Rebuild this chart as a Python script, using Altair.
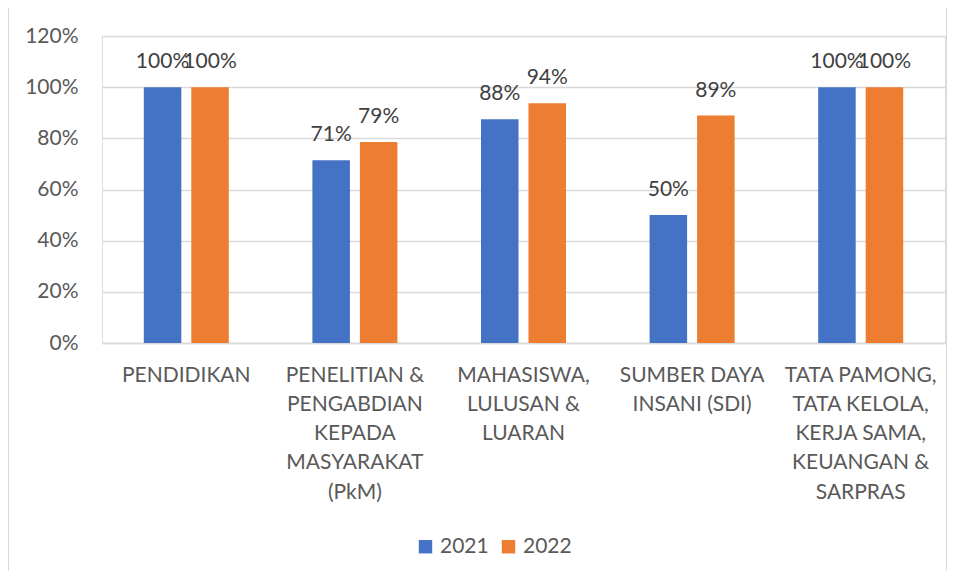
import altair as alt
import pandas as pd

categories = [
    "PENDIDIKAN",
    "PENELITIAN &|PENGABDIAN|KEPADA|MASYARAKAT|(PkM)",
    "MAHASISWA,|LULUSAN &|LUARAN",
    "SUMBER DAYA|INSANI (SDI)",
    "TATA PAMONG,|TATA KELOLA,|KERJA SAMA,|KEUANGAN &|SARPRAS",
]
years = ["2021", "2022"]
values_2021 = [1.0, 0.714, 0.875, 0.5, 1.0]
values_2022 = [1.0, 0.786, 0.9375, 0.889, 1.0]
colors = ["#4472C4", "#ED7D31"]

rows = []
for c, v1, v2 in zip(categories, values_2021, values_2022):
    rows.append({"cat": c, "year": years[0], "val": v1})
    rows.append({"cat": c, "year": years[1], "val": v2})
df = pd.DataFrame(rows)

FONT = "Lato"
GRAY = "#595959"
FS = 21

x = alt.X(
    "cat:N",
    sort=categories,
    title=None,
    scale=alt.Scale(paddingInner=0, paddingOuter=0),
    axis=alt.Axis(
        labelExpr="split(datum.label, '|')",
        labelAngle=0,
        labelBaseline="top",
        labelPadding=21,
        labelLineHeight=29.3,
        ticks=False,
        tickSize=0,
        domainColor="#d9d9d9",
        domainWidth=1.5,
        labelColor=GRAY,
        labelFont=FONT,
        labelFontSize=FS,
        labelLimit=300,
    ),
)
xo = alt.XOffset(
    "year:N",
    sort=years,
    scale=alt.Scale(paddingInner=0.21, paddingOuter=0.88),
)
y = alt.Y(
    "val:Q",
    title=None,
    scale=alt.Scale(domain=[0, 1.2], nice=False),
    axis=alt.Axis(
        format=".0%",
        values=[0, 0.2, 0.4, 0.6, 0.8, 1.0, 1.2],
        domain=False,
        ticks=False,
        tickSize=0,
        labelPadding=24,
        gridColor="#d9d9d9",
        gridWidth=1.5,
        labelColor=GRAY,
        labelFont=FONT,
        labelFontSize=FS,
    ),
)
color = alt.Color(
    "year:N",
    sort=years,
    scale=alt.Scale(domain=years, range=colors),
    legend=alt.Legend(
        title=None,
        orient="none",
        direction="horizontal",
        legendX=313,
        legendY=500,
        symbolType="square",
        symbolSize=180,
        symbolStrokeWidth=0,
        labelFont=FONT,
        labelFontSize=FS,
        labelColor=GRAY,
        columnPadding=9,
        labelOffset=4,
        padding=0,
    ),
)

bars = alt.Chart(df).mark_bar().encode(x=x, xOffset=xo, y=y, color=color)
labels = alt.Chart(df).mark_text(
    baseline="alphabetic", dy=-19, font=FONT, fontSize=FS, color="#404040"
).encode(
    x=alt.X("cat:N", sort=categories),
    xOffset=alt.XOffset("year:N", sort=years),
    y="val:Q",
    text=alt.Text("val:Q", format=".0%"),
)
border = alt.Chart(df).mark_rect(
    fill=None, stroke="#d9d9d9", strokeWidth=1.5
).encode(
    x=alt.value(-94), x2=alt.value(845), y=alt.value(-29), y2=alt.value(538)
)

chart = (
    alt.layer(border, bars, labels)
    .properties(
        width=843,
        height=307,
        autosize=alt.AutoSizeParams(type="none"),
        padding={"left": 94, "top": 28, "right": 2, "bottom": 228},
    )
    .configure_view(stroke=None)
    .configure(background="white")
)

chart.save("out.html", embed_options={"renderer": "svg", "actions": False})
